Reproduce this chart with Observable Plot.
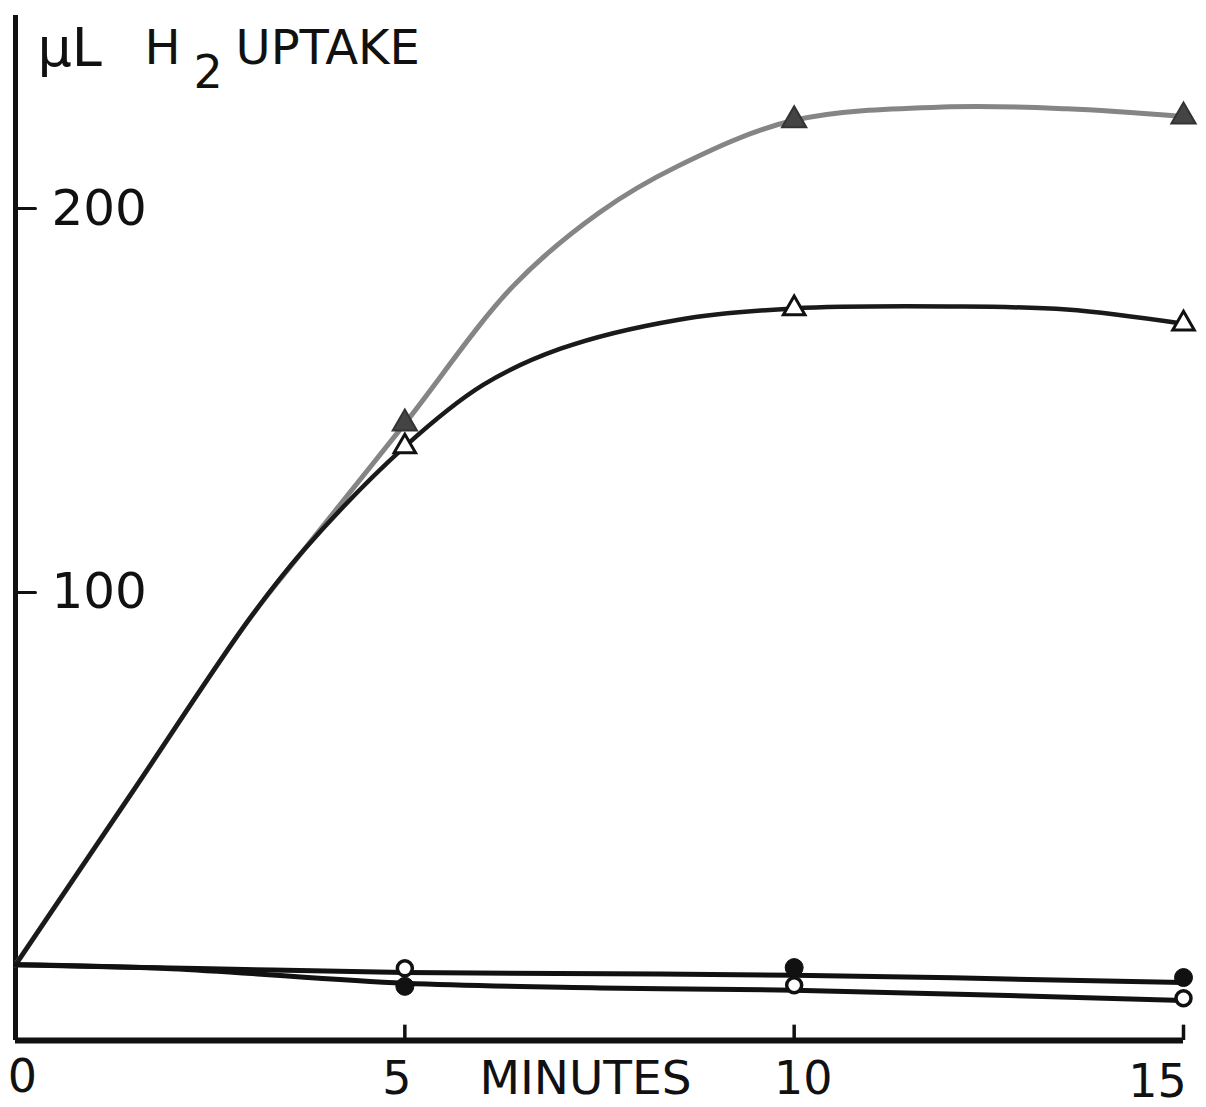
<!DOCTYPE html>
<html><head><meta charset="utf-8">
<script src="https://cdn.jsdelivr.net/npm/d3@7"></script>
<script src="https://cdn.jsdelivr.net/npm/@observablehq/plot@0.6"></script>
<style>html,body{margin:0;padding:0;background:#fff}</style>
</head><body><div id="chart"></div>
<script>
// Measured points (markers), minutes
const minutes = [0, 5, 10, 15];
const filledTriangleV = [3, 144, 223, 224];
const openTriangleV = [3, 138, 174, 170];
const openCircleT = [5, 10, 15];
const openCircleV = [2.1, -2.3, -5.7];
const filledCircleT = [5, 10, 15];
const filledCircleV = [-2.6, 2.3, -0.3];

// Curves as drawn in the figure
const grayCurveT = [0, 1.5, 3, 3.7, 5, 6.4, 7.5, 8.5, 10, 12, 13.5, 15];
const grayCurveV = [3, 48, 93, 111, 144, 180, 199, 211, 223, 226.5, 226, 224];
const blackCurveT = [0, 1.5, 3, 3.7, 5, 6, 7, 8.5, 10, 12, 13.5, 15];
const blackCurveV = [3, 48, 93, 111, 138, 154, 163.5, 171, 174, 174.5, 173.7, 170];
const upperFlatT = [0, 2.5, 5, 10, 15];
const upperFlatV = [3, 2, 1, 0.3, -1.6];
const lowerFlatT = [0, 2, 5, 7.5, 10, 15];
const lowerFlatV = [3, 2, -1.8, -3, -3.6, -6.25];

// Axis ticks and labels
const yTicks = [100, 200];
const yTickLabels = ["100", "200"];
const xTicks = [5, 10, 15];
const xLabelValues = [0, 5, 10, 15];
const xLabels = ["0", "5", "10", "15"];
const yDomain = [-16.7, 250.3];
const xDomain = [0, 15];

const font = "DejaVu Sans";
const tickShape = {draw(ctx, l) { ctx.moveTo(0, 0); ctx.lineTo(0, -l); }};
const xLabelDx = [7, -8, 9, -26];
const xLabelDy = [37, 39, 39, 42];

const chart = Plot.plot({
  width: 1206,
  height: 1107,
  marginLeft: 15,
  marginRight: 23,
  marginTop: 15,
  marginBottom: 67,
  style: {fontFamily: font, background: "#fff", overflow: "visible"},
  x: {domain: xDomain, axis: null},
  y: {domain: yDomain, axis: null},
  marks: [
    // axes
    Plot.ruleX([xDomain[0]], {stroke: "#111", strokeWidth: 5}),
    Plot.ruleY([yDomain[0]], {stroke: "#111", strokeWidth: 6}),
    Plot.vector(yTicks, {frameAnchor: "left", y: d => d, rotate: 90, anchor: "start", length: 20, shape: tickShape, stroke: "#111", strokeWidth: 3}),
    Plot.ruleX(xTicks, {x: d => d, y1: () => yDomain[0], y2: () => yDomain[0] + 4, stroke: "#111", strokeWidth: 3.5}),
    // curves
    Plot.line(grayCurveT, {x: grayCurveT, y: grayCurveV, curve: "catmull-rom", stroke: "#858585", strokeWidth: 5}),
    Plot.line(blackCurveT, {x: blackCurveT, y: blackCurveV, curve: "catmull-rom", stroke: "#1a1a1a", strokeWidth: 4.5}),
    Plot.line(upperFlatT, {x: upperFlatT, y: upperFlatV, curve: "catmull-rom", stroke: "#111", strokeWidth: 5}),
    Plot.line(lowerFlatT, {x: lowerFlatT, y: lowerFlatV, curve: "catmull-rom", stroke: "#111", strokeWidth: 5}),
    // markers
    Plot.dot(minutes.slice(1), {x: minutes.slice(1), y: filledTriangleV.slice(1), symbol: "triangle", r: 9, fill: "#444", stroke: "#333", strokeWidth: 2}),
    Plot.dot(minutes.slice(1), {x: minutes.slice(1), y: openTriangleV.slice(1), symbol: "triangle", r: 8, fill: "#fff", stroke: "#111", strokeWidth: 3}),
    Plot.dot(openCircleT, {x: openCircleT, y: openCircleV, r: 7.5, fill: "#fff", stroke: "#111", strokeWidth: 3.5}),
    Plot.dot(filledCircleT, {x: filledCircleT, y: filledCircleV, r: 9, fill: "#111", stroke: "#111", strokeWidth: 1}),
    // y tick labels
    Plot.text(yTicks, {frameAnchor: "left", y: d => d, text: (d, i) => yTickLabels[i], dx: 36, textAnchor: "start", lineAnchor: "middle", fontSize: 50, fill: "#111"}),
    // x tick labels
    ...xLabelValues.map((v, i) => Plot.text([v], {x: d => d, y: () => yDomain[0], text: () => xLabels[i], dx: xLabelDx[i], dy: xLabelDy[i], textAnchor: "middle", lineAnchor: "middle", fontSize: 46, fill: "#111"})),
    Plot.text(["MINUTES"], {frameAnchor: "bottom", text: d => d, dx: -14, dy: 38, textAnchor: "middle", lineAnchor: "middle", fontSize: 47, fill: "#111"}),
    // title
    Plot.text(["µL"], {frameAnchor: "top-left", text: d => d, dx: 22, dy: 33, textAnchor: "start", lineAnchor: "middle", fontSize: 54, fill: "#111"}),
    Plot.text(["H"], {frameAnchor: "top-left", text: d => d, dx: 129, dy: 33, textAnchor: "start", lineAnchor: "middle", fontSize: 48, fill: "#111"}),
    Plot.text(["2"], {frameAnchor: "top-left", text: d => d, dx: 178, dy: 58, textAnchor: "start", lineAnchor: "middle", fontSize: 46, fill: "#111"}),
    Plot.text(["UPTAKE"], {frameAnchor: "top-left", text: d => d, dx: 220, dy: 33, textAnchor: "start", lineAnchor: "middle", fontSize: 48, fill: "#111"})
  ]
});
document.getElementById("chart").appendChild(chart);
</script>
</body></html>
